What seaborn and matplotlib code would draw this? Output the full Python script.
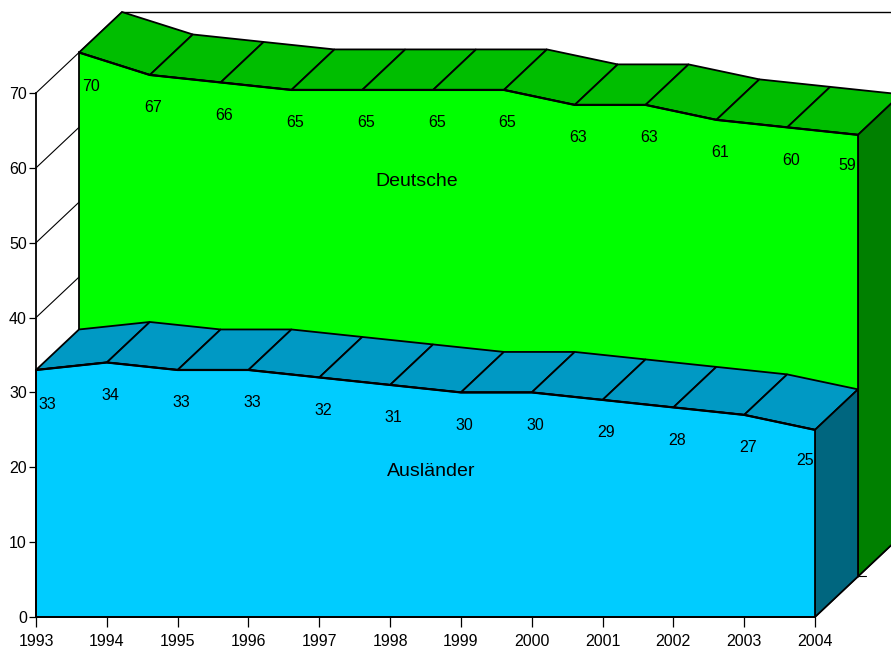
import matplotlib
matplotlib.use("Agg")
import matplotlib.pyplot as plt
import seaborn as sns
import pandas as pd

# ---- data ----
years = [1993, 1994, 1995, 1996, 1997, 1998, 1999, 2000, 2001, 2002, 2003, 2004]
deutsche = [70, 67, 66, 65, 65, 65, 65, 63, 63, 61, 60, 59]
auslaender = [33, 34, 33, 33, 32, 31, 30, 30, 29, 28, 27, 25]
series_names = ["Deutsche", "Ausländer"]
y_ticks = [0, 10, 20, 30, 40, 50, 60, 70]

sns.set_theme(style="white")
plt.rcParams['font.family'] = ['Liberation Sans', 'DejaVu Sans']
plt.rcParams['text.color'] = 'black'

fig = plt.figure(figsize=(8.91, 6.5), dpi=100)
ax = fig.add_axes([36 / 891, 33 / 650, 779 / 891, 524 / 650])
ax.set_xlim(1993, 2004)
ax.set_ylim(0, 70)

# depth step (one series deep) in data units
DX = 43 / 70.818
DY = 40.5 / 7.4857

EDGE = dict(edgecolor="black", linewidth=1.3, clip_on=False)

# ---- walls / floor ----
for v in y_ticks:
    ax.plot([1993, 1993 + 2 * DX], [v, v + 2 * DY], color="black", lw=0.8,
            clip_on=False, zorder=1)
ax.plot([1993 + 2 * DX, 2004 + 3 * DX], [70 + 2 * DY] * 2, color="black",
        lw=1.0, clip_on=False, zorder=1)
ax.plot([2004, 2004 + 3 * DX], [0, 3 * DY], color="black", lw=0.9,
        clip_on=False, zorder=1)
ax.plot([2004 + DX, 2004 + DX + 0.11], [DY, DY], color="black", lw=0.8,
        clip_on=False, zorder=1)


def draw_series(vals, depth, c_front, c_top, c_side, z):
    ox, oy = depth * DX, depth * DY
    xs = [x + ox for x in years]
    # top faces
    for i in range(len(years) - 1):
        px = [xs[i], xs[i + 1], xs[i + 1] + DX, xs[i] + DX]
        py = [vals[i] + oy, vals[i + 1] + oy, vals[i + 1] + oy + DY, vals[i] + oy + DY]
        ax.fill(px, py, facecolor=c_top, zorder=z, **EDGE)
    # right side face
    xe = xs[-1]
    ax.fill([xe, xe, xe + DX, xe + DX],
            [oy, vals[-1] + oy, vals[-1] + oy + DY, oy + DY],
            facecolor=c_side, zorder=z, **EDGE)
    # front face
    ax.fill(xs + [xs[-1], xs[0]], [v + oy for v in vals] + [oy, oy],
            facecolor=c_front, zorder=z + 0.1, **EDGE)
    df = pd.DataFrame({"x": xs, "y": [v + oy for v in vals]})
    sns.lineplot(data=df, x="x", y="y", ax=ax, color="black", lw=1.6,
                 zorder=z + 0.2, clip_on=False)
    n = len(xs)
    for i, (x, v) in enumerate(zip(xs, vals)):
        if i == n - 1:
            ax.text(x - 0.02, v + oy - 4.1, str(v), ha="right", va="center",
                    fontsize=11.5, color="black", zorder=z + 0.3)
        elif i == 0:
            ax.text(x + 0.04, v + oy - 4.6, str(v), ha="left", va="center",
                    fontsize=11.5, color="black", zorder=z + 0.3)
        else:
            ax.text(x + 0.05, v + oy - 4.4, str(v), ha="center", va="center",
                    fontsize=11.5, color="black", zorder=z + 0.3)


draw_series(deutsche, 1, "#00FF00", "#00BE00", "#008000", 3)
draw_series(auslaender, 0, "#00CCFF", "#0099C4", "#00667F", 5)

ax.text(1998.37, 58.2, series_names[0], ha="center", va="center",
        fontsize=14, color="black", zorder=10)
ax.text(1998.58, 19.5, series_names[1], ha="center", va="center",
        fontsize=14, color="black", zorder=10)

# ---- axes ----
for s in ["top", "right"]:
    ax.spines[s].set_visible(False)
for s in ["left", "bottom"]:
    ax.spines[s].set_color("black")
    ax.spines[s].set_linewidth(1.3)
    ax.spines[s].set_zorder(8)
ax.set_xticks(years)
ax.set_xticklabels([str(y) for y in years])
ax.set_yticks(y_ticks)
ax.set_yticklabels([str(v) for v in y_ticks])
ax.tick_params(axis="x", direction="out", length=7, width=0.9, pad=5.5,
               labelsize=11.5, colors="black", bottom=True)
ax.tick_params(axis="y", direction="out", length=5, width=0.9, pad=1.5,
               labelsize=11.5, colors="black", left=True)
ax.set_xlabel("")
ax.set_ylabel("")
ax.patch.set_alpha(0)

fig.savefig("out.png", dpi=100, facecolor="white")
